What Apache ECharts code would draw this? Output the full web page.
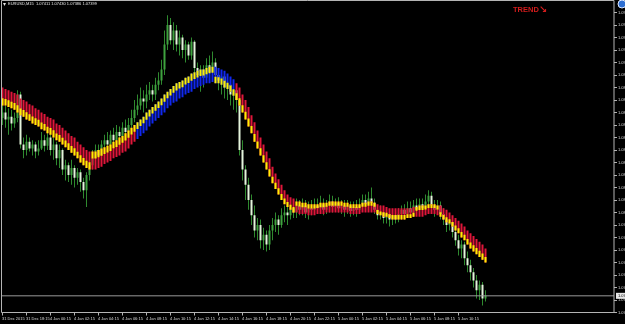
<!DOCTYPE html>
<html><head><meta charset="utf-8">
<script src="https://cdn.jsdelivr.net/npm/echarts@6/dist/echarts.min.js"></script>
<style>html,body{margin:0;padding:0;background:#000;overflow:hidden}#c{width:625px;height:324px}</style>
</head><body><div id="c"></div>
<script>
// time-axis tick labels, one per 8 M15 bars starting at bar 0
const timeLabels = ["31 Dec 2015","31 Dec 18:15","4 Jan 00:15","4 Jan 02:15","4 Jan 04:15","4 Jan 06:15","4 Jan 08:15","4 Jan 10:15","4 Jan 12:15","4 Jan 14:15","4 Jan 16:15","4 Jan 18:15","4 Jan 20:15","4 Jan 22:15","5 Jan 00:15","5 Jan 02:15","5 Jan 04:15","5 Jan 06:15","5 Jan 08:15","5 Jan 10:15","5 Jan 12:15"];
const barsPerLabel = 8;
const slotCount = 205;

const open = [1.0868,1.0872,1.0867,1.0869,1.0864,1.0868,1.0885,1.0849,1.0845,1.0851,1.0846,1.0849,1.0844,1.0846,1.0852,1.0848,1.0854,1.0845,1.0849,1.0839,1.0845,1.0831,1.0834,1.0827,1.0832,1.0825,1.0829,1.0822,1.0816,1.0827,1.0834,1.0839,1.0845,1.0841,1.0849,1.0852,1.0849,1.0856,1.0852,1.0858,1.0855,1.0861,1.0858,1.0863,1.0868,1.0874,1.0877,1.0882,1.0880,1.0885,1.0888,1.0885,1.0892,1.0895,1.0903,1.0921,1.0935,1.0924,1.0931,1.0921,1.0926,1.0917,1.0921,1.0913,1.0923,1.0904,1.0899,1.0903,1.0897,1.0906,1.0901,1.0908,1.0899,1.0895,1.0898,1.0890,1.0892,1.0885,1.0888,1.0881,1.0845,1.0831,1.0820,1.0809,1.0798,1.0787,1.0791,1.0780,1.0784,1.0777,1.0787,1.0791,1.0795,1.0791,1.0798,1.0800,1.0798,1.0803,1.0800,1.0805,1.0802,1.0805,1.0800,1.0803,1.0802,1.0805,1.0803,1.0806,1.0802,1.0805,1.0808,1.0804,1.0807,1.0803,1.0805,1.0802,1.0805,1.0801,1.0804,1.0802,1.0805,1.0809,1.0806,1.0810,1.0807,1.0802,1.0798,1.0800,1.0796,1.0799,1.0795,1.0798,1.0795,1.0799,1.0802,1.0799,1.0803,1.0800,1.0805,1.0802,1.0806,1.0803,1.0808,1.0812,1.0805,1.0802,1.0805,1.0799,1.0795,1.0791,1.0793,1.0786,1.0780,1.0774,1.0777,1.0767,1.0762,1.0757,1.0751,1.0744,1.0748,1.0738];
const close = [1.0872,1.0867,1.0869,1.0864,1.0868,1.0885,1.0849,1.0845,1.0851,1.0846,1.0849,1.0844,1.0846,1.0852,1.0848,1.0854,1.0845,1.0849,1.0839,1.0845,1.0831,1.0834,1.0827,1.0832,1.0825,1.0829,1.0822,1.0816,1.0827,1.0834,1.0839,1.0845,1.0841,1.0849,1.0852,1.0849,1.0856,1.0852,1.0858,1.0855,1.0861,1.0858,1.0863,1.0868,1.0874,1.0877,1.0882,1.0880,1.0885,1.0888,1.0885,1.0892,1.0895,1.0903,1.0921,1.0935,1.0924,1.0931,1.0921,1.0926,1.0917,1.0921,1.0913,1.0923,1.0904,1.0899,1.0903,1.0897,1.0906,1.0901,1.0908,1.0899,1.0895,1.0898,1.0890,1.0892,1.0885,1.0888,1.0881,1.0845,1.0831,1.0820,1.0809,1.0798,1.0787,1.0791,1.0780,1.0784,1.0777,1.0787,1.0791,1.0795,1.0791,1.0798,1.0800,1.0798,1.0803,1.0800,1.0805,1.0802,1.0805,1.0800,1.0803,1.0802,1.0805,1.0803,1.0806,1.0802,1.0805,1.0808,1.0804,1.0807,1.0803,1.0805,1.0802,1.0805,1.0801,1.0804,1.0802,1.0805,1.0809,1.0806,1.0810,1.0807,1.0802,1.0798,1.0800,1.0796,1.0799,1.0795,1.0798,1.0795,1.0799,1.0802,1.0799,1.0803,1.0800,1.0805,1.0802,1.0806,1.0803,1.0808,1.0812,1.0805,1.0802,1.0805,1.0799,1.0795,1.0791,1.0793,1.0786,1.0780,1.0774,1.0777,1.0767,1.0762,1.0757,1.0751,1.0744,1.0748,1.0738,1.0740];
const high = [1.0881,1.0877,1.0875,1.0874,1.0872,1.0888,1.0887,1.0854,1.0856,1.0854,1.0852,1.0851,1.0852,1.0858,1.0856,1.0859,1.0856,1.0854,1.0851,1.0849,1.0846,1.0838,1.0836,1.0838,1.0834,1.0832,1.0831,1.0825,1.0829,1.0838,1.0845,1.0849,1.0849,1.0852,1.0856,1.0858,1.0859,1.0861,1.0863,1.0862,1.0865,1.0867,1.0868,1.0874,1.0881,1.0885,1.0890,1.0888,1.0892,1.0894,1.0892,1.0897,1.0901,1.0910,1.0931,1.0942,1.0940,1.0937,1.0935,1.0931,1.0928,1.0924,1.0923,1.0926,1.0924,1.0908,1.0906,1.0906,1.0911,1.0913,1.0916,1.0911,1.0903,1.0901,1.0900,1.0895,1.0894,1.0892,1.0892,1.0885,1.0852,1.0834,1.0825,1.0813,1.0805,1.0796,1.0795,1.0789,1.0787,1.0791,1.0796,1.0800,1.0798,1.0803,1.0805,1.0805,1.0809,1.0808,1.0810,1.0809,1.0810,1.0809,1.0808,1.0809,1.0810,1.0810,1.0812,1.0810,1.0809,1.0813,1.0812,1.0810,1.0811,1.0809,1.0809,1.0809,1.0808,1.0808,1.0809,1.0810,1.0813,1.0813,1.0815,1.0818,1.0810,1.0805,1.0805,1.0803,1.0803,1.0802,1.0802,1.0802,1.0803,1.0805,1.0806,1.0808,1.0808,1.0809,1.0810,1.0810,1.0810,1.0813,1.0816,1.0815,1.0809,1.0809,1.0808,1.0803,1.0798,1.0798,1.0796,1.0789,1.0784,1.0780,1.0779,1.0772,1.0766,1.0760,1.0755,1.0751,1.0750,1.0744];
const low = [1.0863,1.0861,1.0856,1.0859,1.0861,1.0865,1.0846,1.0839,1.0841,1.0844,1.0841,1.0839,1.0841,1.0845,1.0844,1.0845,1.0841,1.0838,1.0834,1.0832,1.0827,1.0823,1.0822,1.0820,1.0818,1.0820,1.0815,1.0810,1.0804,1.0823,1.0831,1.0836,1.0838,1.0839,1.0845,1.0846,1.0845,1.0849,1.0850,1.0852,1.0852,1.0855,1.0856,1.0861,1.0865,1.0870,1.0874,1.0872,1.0875,1.0881,1.0880,1.0881,1.0888,1.0892,1.0899,1.0917,1.0921,1.0917,1.0916,1.0913,1.0911,1.0908,1.0910,1.0910,1.0901,1.0892,1.0887,1.0890,1.0894,1.0895,1.0897,1.0894,1.0888,1.0885,1.0882,1.0881,1.0877,1.0874,1.0872,1.0841,1.0823,1.0809,1.0802,1.0791,1.0782,1.0780,1.0774,1.0773,1.0772,1.0773,1.0780,1.0786,1.0784,1.0789,1.0793,1.0791,1.0795,1.0796,1.0796,1.0798,1.0798,1.0796,1.0795,1.0798,1.0799,1.0800,1.0800,1.0798,1.0799,1.0800,1.0800,1.0802,1.0800,1.0799,1.0797,1.0799,1.0797,1.0798,1.0797,1.0799,1.0802,1.0803,1.0803,1.0805,1.0799,1.0795,1.0795,1.0792,1.0792,1.0790,1.0791,1.0792,1.0793,1.0795,1.0795,1.0796,1.0796,1.0797,1.0798,1.0799,1.0799,1.0800,1.0805,1.0802,1.0797,1.0799,1.0795,1.0791,1.0786,1.0787,1.0782,1.0776,1.0769,1.0767,1.0762,1.0757,1.0751,1.0746,1.0738,1.0737,1.0733,1.0736];

// trend ribbon (smoothed band) per bar
const ribbonHigh = [1.0890,1.0889,1.0888,1.0887,1.0886,1.0885,1.0882,1.0881,1.0880,1.0878,1.0877,1.0875,1.0874,1.0872,1.0871,1.0869,1.0868,1.0867,1.0864,1.0863,1.0861,1.0859,1.0857,1.0855,1.0854,1.0851,1.0849,1.0847,1.0845,1.0844,1.0844,1.0844,1.0845,1.0846,1.0847,1.0848,1.0849,1.0851,1.0852,1.0854,1.0855,1.0857,1.0859,1.0861,1.0863,1.0865,1.0867,1.0869,1.0872,1.0874,1.0876,1.0878,1.0880,1.0882,1.0885,1.0887,1.0889,1.0891,1.0893,1.0894,1.0895,1.0897,1.0898,1.0900,1.0901,1.0902,1.0903,1.0903,1.0904,1.0905,1.0905,1.0905,1.0904,1.0903,1.0902,1.0900,1.0898,1.0896,1.0893,1.0890,1.0885,1.0881,1.0876,1.0870,1.0865,1.0859,1.0854,1.0849,1.0844,1.0839,1.0833,1.0828,1.0824,1.0820,1.0816,1.0813,1.0811,1.0810,1.0808,1.0808,1.0807,1.0807,1.0806,1.0806,1.0806,1.0806,1.0807,1.0807,1.0807,1.0808,1.0808,1.0808,1.0808,1.0808,1.0807,1.0807,1.0806,1.0806,1.0806,1.0806,1.0807,1.0807,1.0808,1.0808,1.0807,1.0806,1.0805,1.0805,1.0804,1.0803,1.0803,1.0803,1.0803,1.0803,1.0803,1.0803,1.0803,1.0804,1.0804,1.0805,1.0805,1.0805,1.0806,1.0806,1.0806,1.0805,1.0805,1.0803,1.0802,1.0800,1.0798,1.0796,1.0794,1.0792,1.0790,1.0787,1.0785,1.0783,1.0781,1.0779,1.0777,1.0774];
const ribbonLow = [1.0877,1.0877,1.0876,1.0875,1.0874,1.0872,1.0870,1.0869,1.0867,1.0866,1.0864,1.0863,1.0862,1.0860,1.0859,1.0857,1.0856,1.0854,1.0852,1.0851,1.0849,1.0847,1.0845,1.0843,1.0841,1.0839,1.0836,1.0834,1.0832,1.0831,1.0831,1.0831,1.0832,1.0833,1.0835,1.0836,1.0837,1.0839,1.0840,1.0841,1.0843,1.0844,1.0846,1.0849,1.0851,1.0853,1.0855,1.0857,1.0859,1.0862,1.0864,1.0866,1.0868,1.0870,1.0872,1.0875,1.0877,1.0879,1.0880,1.0882,1.0883,1.0885,1.0886,1.0887,1.0889,1.0890,1.0891,1.0892,1.0893,1.0893,1.0894,1.0893,1.0893,1.0892,1.0890,1.0889,1.0887,1.0884,1.0881,1.0877,1.0872,1.0867,1.0862,1.0857,1.0851,1.0846,1.0841,1.0836,1.0831,1.0826,1.0821,1.0817,1.0813,1.0809,1.0806,1.0804,1.0802,1.0800,1.0800,1.0799,1.0799,1.0799,1.0798,1.0798,1.0798,1.0799,1.0799,1.0799,1.0800,1.0800,1.0800,1.0800,1.0800,1.0800,1.0800,1.0800,1.0799,1.0799,1.0799,1.0799,1.0800,1.0800,1.0800,1.0800,1.0800,1.0799,1.0798,1.0797,1.0797,1.0796,1.0795,1.0795,1.0795,1.0795,1.0795,1.0796,1.0796,1.0797,1.0797,1.0797,1.0797,1.0798,1.0799,1.0799,1.0799,1.0798,1.0797,1.0795,1.0793,1.0792,1.0790,1.0787,1.0785,1.0782,1.0780,1.0777,1.0774,1.0772,1.0770,1.0768,1.0766,1.0764];
// ribbon state runs: D = falling (red, yellow low end), U = rising (red, yellow high end),
// B = strong rising (blue, yellow high end), b = strong falling (blue, yellow low end)
const trendRuns = [["D",30],["U",15],["B",26],["b",7],["D",20],["U",27],["D",13],["U",8],["D",16]];

const yMin = 1.0728, yMax = 1.0953, yStep = 0.0009;
const bidPrice = 1.0740;
const headerText = "EURUSD,M15  1.07411 1.07430 1.07386 1.07399";

const trend = [];
trendRuns.forEach(([k, n]) => { for (let j = 0; j < n; j++) trend.push(k); });

const cats = [];
for (let i = 0; i < slotCount; i++) cats.push(String(i));

const candleData = open.map((o, i) => [i, o, close[i], low[i], high[i]]);
const ribbonData = ribbonHigh.map((h, i) => [i, h, ribbonLow[i]]);

const RED = '#e0163a', YEL = '#fff200', BLU = '#1028f0';

function renderCandle(params, api) {
  const i = api.value(0);
  const o = api.coord([i, api.value(1)]);
  const c = api.coord([i, api.value(2)]);
  const l = api.coord([i, api.value(3)]);
  const h = api.coord([i, api.value(4)]);
  const x = Math.round(o[0]);
  const bull = api.value(2) >= api.value(1);
  const top = Math.min(o[1], c[1]);
  const bh = Math.max(1, Math.abs(o[1] - c[1]));
  return { type: 'group', children: [
    { type: 'rect', shape: { x: x, y: h[1], width: 1, height: Math.max(1, l[1] - h[1]) }, style: { fill: '#2f8a2f' } },
    { type: 'rect', shape: { x: x - 0.5, y: top, width: 2, height: bh }, style: { fill: bull ? '#3fa23f' : '#e4f4dc' } }
  ]};
}

function renderRibbon(params, api) {
  const i = api.value(0);
  const t = api.coord([i, api.value(1)]);
  const b = api.coord([i, api.value(2)]);
  const x = Math.round(t[0]) - 0.5;
  const hgt = b[1] - t[1];
  const k = trend[i];
  const base = (k === 'B' || k === 'b') ? BLU : RED;
  const yl = 0.4 * hgt;
  const yellowTop = (k === 'U' || k === 'B');
  return { type: 'group', children: [
    { type: 'rect', shape: { x: x, y: t[1], width: 2, height: hgt }, style: { fill: base } },
    { type: 'rect', shape: { x: x, y: yellowTop ? t[1] : b[1] - yl, width: 2, height: yl }, style: { fill: YEL } }
  ]};
}

const showTick = (idx) => idx % barsPerLabel === 0 && idx / barsPerLabel < timeLabels.length;

const chart = echarts.init(document.getElementById('c'), null, { renderer: 'canvas' });
chart.setOption({
  backgroundColor: '#000',
  animation: false,
  grid: { left: 2, right: 11, top: 0, bottom: 11.5, containLabel: false, outerBoundsMode: 'none' },
  xAxis: {
    type: 'category', data: cats, boundaryGap: false,
    axisLine: { show: false },
    axisTick: { show: true, length: 3, lineStyle: { color: '#b4b4b4', width: 1 }, interval: showTick },
    axisLabel: { show: true, interval: showTick, showMinLabel: true, showMaxLabel: false, hideOverlap: false,
      formatter: (v) => timeLabels[Number(v) / barsPerLabel] || '',
      color: '#d6d6d6', fontSize: 4, fontFamily: 'Liberation Sans', align: 'left', verticalAlign: 'top', margin: 4, padding: 0 },
    splitLine: { show: false }
  },
  yAxis: {
    type: 'value', position: 'right', min: yMin, max: yMax, interval: yStep,
    axisLine: { show: false },
    axisTick: { show: true, length: 3, lineStyle: { color: '#b4b4b4' } },
    axisLabel: { color: '#d6d6d6', fontSize: 4, fontFamily: 'Liberation Sans', margin: 4, formatter: (v) => v.toFixed(5),
      showMinLabel: true, showMaxLabel: false, hideOverlap: false },
    splitLine: { show: false }
  },
  series: [
    { type: 'custom', name: 'EURUSD', renderItem: renderCandle, data: candleData, z: 2,
      encode: { x: 0, y: [1, 2, 3, 4] }, clip: true },
    { type: 'custom', name: 'TREND', renderItem: renderRibbon, data: ribbonData, z: 3,
      encode: { x: 0, y: [1, 2] }, clip: true },
    { type: 'line', name: 'Bid', data: [[0, bidPrice], [slotCount - 1, bidPrice]], z: 4,
      symbol: 'none', silent: true, lineStyle: { color: '#9a9a9a', width: 1 },
      endLabel: { show: true, formatter: bidPrice.toFixed(5), distance: 2,
        backgroundColor: '#e6e6e6', color: '#000', fontSize: 4, fontFamily: 'Liberation Sans', padding: [1, 2] } }
  ],
  graphic: [
    { type: 'rect', z: 10, silent: true, shape: { x: 1.5, y: 0.5, width: 612.5, height: 312 },
      style: { fill: 'none', stroke: '#b4b4b4', lineWidth: 1 } },
    { type: 'polygon', z: 11, shape: { points: [[3, 3], [6, 3], [4.5, 6]] }, style: { fill: '#e8e8e8' } },
    { type: 'text', z: 11, left: 8, top: 2, style: { text: headerText, fill: '#e6e6e6', font: '4px Liberation Sans' } },
    { type: 'text', z: 11, left: 513, top: 6, style: { text: 'TREND', fill: '#d41c1c', font: 'bold 7.5px Liberation Sans' } },
    { type: 'text', z: 11, left: 539, top: 5, style: { text: '\u2198', fill: '#d41c1c', font: 'bold 10px DejaVu Sans' } },
    { type: 'circle', z: 11, shape: { cx: 622, cy: 4, r: 4 }, style: { fill: '#2e6fd2', stroke: '#dfe9ff', lineWidth: 1 } }
  ]
});
</script>
</body></html>
